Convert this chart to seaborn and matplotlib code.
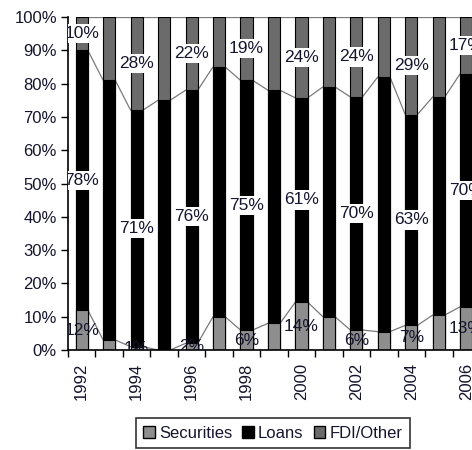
import matplotlib
matplotlib.use("Agg")
import matplotlib.pyplot as plt
import matplotlib.patches as mpatches
import numpy as np
import pandas as pd
import seaborn as sns

years = [1992, 1993, 1994, 1995, 1996, 1997, 1998, 1999,
         2000, 2001, 2002, 2003, 2004, 2005, 2006]
securities = [12, 3, 1, 0, 2, 10, 6, 8, 14.4, 10, 6, 5.5, 7.4, 10.5, 13]
loans = [78, 78, 71, 75, 76, 75, 75, 70, 61.3, 69, 70, 76.5, 63.3, 65.5, 70]
fdi_other = [10, 19, 28, 25, 22, 15, 19, 22, 24.3, 21, 24, 18, 29.3, 24, 17]

c_sec = "#8e8e8e"
c_loan = "#000000"
c_fdi = "#6b6b6b"
txt = "#15152e"
fs_lab = 12.5
fs_tick = 12

sns.set_theme(style="white")
plt.rcParams["font.family"] = ["Liberation Sans", "DejaVu Sans"]

df = pd.DataFrame({"year": [str(y) for y in years],
                   "sec": securities, "loan": loans, "fdi": fdi_other})
df["top_loan"] = df["sec"] + df["loan"]
df["top_all"] = df["top_loan"] + df["fdi"]

fig = plt.figure(figsize=(4.72, 4.5), dpi=100)
ax = fig.add_axes([68 / 472, 100 / 450, 412 / 472, 333 / 450])

bw = 0.44
# stacked bars drawn as overlapping cumulative totals
sns.barplot(data=df, x="year", y="top_all", color=c_fdi, width=bw,
            edgecolor="black", linewidth=0.8, saturation=1, ax=ax, zorder=2)
sns.barplot(data=df, x="year", y="top_loan", color=c_loan, width=bw,
            edgecolor="black", linewidth=0.8, saturation=1, ax=ax, zorder=2)
sns.barplot(data=df, x="year", y="sec", color=c_sec, width=bw,
            edgecolor="black", linewidth=0.8, saturation=1, ax=ax, zorder=2)

# series lines joining the segment boundaries of neighbouring bars
n = len(years)
for col in ["sec", "top_loan", "top_all"]:
    vals = df[col].values
    for i in range(n - 1):
        ax.plot([i + bw / 2, i + 1 - bw / 2], [vals[i], vals[i + 1]],
                color="#7a7a7a", lw=0.9, zorder=1.5)

# value labels on every other year
for i, y in enumerate(years):
    if y % 2:
        continue
    s, l, f = securities[i], loans[i], fdi_other[i]
    ax.text(i, s / 2, f"{s:.0f}%", ha="center", va="center", fontsize=fs_lab,
            color=txt, zorder=4, clip_on=True)
    ax.text(i, s + l / 2, f"{l:.0f}%", ha="center", va="center", fontsize=fs_lab,
            color=txt, zorder=4, clip_on=True,
            bbox=dict(boxstyle="square,pad=0.12", fc="white", ec="none"))
    ax.text(i, s + l + f / 2, f"{f:.0f}%", ha="center", va="center", fontsize=fs_lab,
            color=txt, zorder=4, clip_on=True,
            bbox=dict(boxstyle="square,pad=0.12", fc="white", ec="none"))

ax.set_xlim(-0.47, n - 1 + 0.47)
ax.set_ylim(0, 100)
ax.set_yticks(np.arange(0, 101, 10))
ax.set_yticklabels([f"{v}%" for v in range(0, 101, 10)], fontsize=fs_tick, color=txt)
ax.tick_params(axis="y", direction="out", length=5, width=1, color="black",
               left=True, pad=3)

major = [i for i, y in enumerate(years) if y % 2 == 0]
ax.set_xticks(major)
ax.set_xticklabels([str(years[i]) for i in major], rotation=90, fontsize=fs_tick,
                   color=txt)
ax.set_xticks(np.arange(-0.5, n, 1.0), minor=True)
ax.tick_params(axis="x", which="major", length=0, pad=9)
ax.tick_params(axis="x", which="minor", direction="out", length=5, width=1,
               color="black", bottom=True)
ax.set_xlabel("")
ax.set_ylabel("")

for side in ["top", "right"]:
    ax.spines[side].set_visible(False)
for side in ["left", "bottom"]:
    ax.spines[side].set_color("black")
    ax.spines[side].set_linewidth(1.2)

handles = [mpatches.Patch(fc=c_sec, ec="black", lw=1, label="Securities"),
           mpatches.Patch(fc=c_loan, ec="black", lw=1, label="Loans"),
           mpatches.Patch(fc=c_fdi, ec="black", lw=1, label="FDI/Other")]
leg = fig.legend(handles=handles, loc="upper center", ncol=3,
                 bbox_to_anchor=(0.578, 1 - 418 / 450), fontsize=fs_tick,
                 frameon=True, fancybox=False, edgecolor="black",
                 handlelength=0.7, handleheight=0.7, handletextpad=0.25,
                 columnspacing=0.6, borderpad=0.45, borderaxespad=0)
leg.get_frame().set_linewidth(1.2)
for t in leg.get_texts():
    t.set_color(txt)

fig.savefig("out.png", dpi=100)
